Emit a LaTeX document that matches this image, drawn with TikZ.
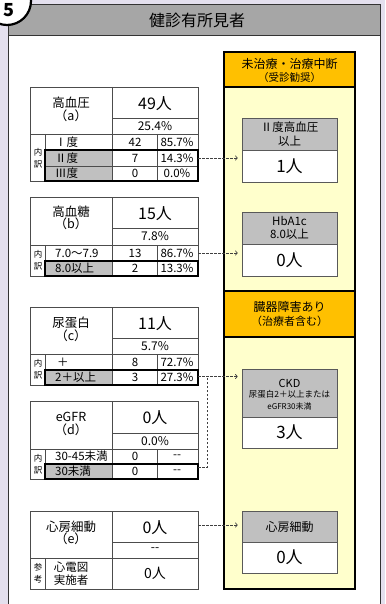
\documentclass[tikz,border=0pt]{standalone}
\usepackage{fontspec}
\setmainfont{Noto Sans CJK JP}
\usepackage{tikz}
\usetikzlibrary{arrows.meta, calc}

\definecolor{lavbg}{RGB}{228,224,238}
\definecolor{barGray}{RGB}{166,166,166}
\definecolor{cellGray}{RGB}{192,192,192}
\definecolor{headOrange}{RGB}{255,192,0}
\definecolor{paleYellow}{RGB}{255,255,204}

\tikzset{
  cellline/.style={draw=black!70, line width=0.6pt},
  hilite/.style={draw=black, line width=1.3pt},
  colbox/.style={draw=black, line width=1.5pt},
  lbl/.style={inner sep=0pt, align=center, font=\fontsize{12.5}{12.5}\selectfont},
  bignum/.style={inner sep=0pt, font=\fontsize{16}{16}\selectfont},
  pct/.style={inner sep=0pt, font=\fontsize{12}{12}\selectfont},
  rowtxt/.style={inner sep=0pt, font=\fontsize{11.5}{11.5}\selectfont},
  tinytxt/.style={inner sep=0pt, align=center, font=\fontsize{8.5}{12}\selectfont},
  headtxt/.style={inner sep=0pt, font=\fontsize{12}{12}\selectfont},
  subhead/.style={inner sep=0pt, font=\fontsize{10.5}{10.5}\selectfont},
  graybox/.style={draw=black!65, line width=0.8pt, fill=cellGray, minimum width=95pt,
    inner sep=0pt, align=center, font=\fontsize{11.5}{13.5}\selectfont},
  whitebox/.style={draw=black!65, line width=0.8pt, fill=white, minimum width=95pt,
    inner sep=0pt, font=\fontsize{17}{17}\selectfont},
  darr/.style={draw=black!75, line width=0.7pt, dash pattern=on 2.5pt off 1.5pt,
    -{To[length=2.5pt,width=5pt]}, shorten >=4pt},
  dline/.style={draw=black!75, line width=0.7pt, dash pattern=on 2.5pt off 1.5pt},
}

\begin{document}
\begin{tikzpicture}[x=1pt,y=-1pt]
    % Background and panel
    \fill[lavbg] (0,0) rectangle (385,604);
    \useasboundingbox (0,0) rectangle (385,604);
    \fill[white] (8,36) rectangle (380,610);
    \fill[barGray] (8,5) rectangle (380,36);
    \draw[line width=1pt, black!80] (8,610) -- (8,5) -- (380,5) -- (380,610);
    \draw[line width=1pt, black!80] (8,36) -- (380,36);
    \node[inner sep=0pt, font=\fontsize{16}{16}\selectfont] (title) at (197,20.5) {健診有所見者};

    % Section number
    \draw[line width=2.2pt, fill=white] (7,1) circle (24pt);
    \node[inner sep=0pt, font=\bfseries\fontsize{18}{18}\selectfont] (secno) at (8.5,10) {5};

    % Right column
    \filldraw[colbox, fill=paleYellow] (224,52) rectangle (355,589);
    \filldraw[colbox, fill=headOrange] (224,52) rectangle (355,87);
    \filldraw[colbox, fill=headOrange] (224,291) rectangle (355,337);
    \node[headtxt] (hd1) at (289.5,64) {未治療・治療中断};
    \node[subhead] (hd1b) at (289.5,78) {（受診勧奨）};
    \node[headtxt] (hd2) at (289.5,307) {臓器障害あり};
    \node[headtxt, font=\fontsize{11}{11}\selectfont] (hd2b) at (289.5,321) {（治療者含む）};

    % Boxes in the right column
    \node[graybox, minimum height=32pt] (g1) at (289.5,134) {Ⅱ度高血圧\\以上};
    \node[whitebox, minimum height=32pt] (w1) at (289.5,166) {1人};
    \node[graybox, minimum height=32pt] (g2) at (289.5,228) {HbA1c\\8.0以上};
    \node[whitebox, minimum height=32pt] (w2) at (289.5,260) {0人};
    \node[graybox, minimum height=48pt] (g3) at (289.5,393) {};
    \node[inner sep=0pt, font=\fontsize{11}{11}\selectfont] (ckd) at (289.5,383) {CKD};
    \node[tinytxt] (ckdb) at (289.5,400.5) {尿蛋白2＋以上または\\{\fontsize{8}{8}\selectfont eGFR30未満}};
    \node[whitebox, minimum height=31pt] (w3) at (289.5,432.5) {3人};
    \node[graybox, minimum height=31pt, font=\fontsize{12}{12}\selectfont] (g4) at (289.5,526.5) {心房細動};
    \node[whitebox, minimum height=31pt] (w4) at (289.5,557.5) {0人};

    % (a) blood pressure
    \fill[cellGray] (45,150) rectangle (112,181);
    \draw[cellline] (30,87) rectangle (198,181);
    \draw[cellline] (112,87) -- (112,181) (112,118) -- (198,118) (30,134) -- (198,134)
        (45,134) -- (45,181) (157,134) -- (157,181) (45,150) -- (198,150) (45,166) -- (198,166);
    \draw[hilite] (45,150) rectangle (198,181);
    \node[lbl] (la) at (71,109.5) {高血圧\\（a）};
    \node[bignum] (na) at (155,104) {49人};
    \node[pct] (pa) at (155,126) {25.4\%};
    \node[tinytxt] (ua) at (38,158) {内\\訳};
    \node[rowtxt, anchor=west] (a1) at (55,142) {Ⅰ度};
    \node[rowtxt, anchor=west] (a2) at (55,158) {Ⅱ度};
    \node[rowtxt, anchor=west] (a3) at (55,173.5) {Ⅲ度};
    \node[rowtxt] (a1n) at (135,142) {42};
    \node[rowtxt] (a2n) at (135,158) {7};
    \node[rowtxt] (a3n) at (135,173.5) {0};
    \node[rowtxt] (a1p) at (177,142) {85.7\%};
    \node[rowtxt] (a2p) at (177,158) {14.3\%};
    \node[rowtxt] (a3p) at (177,173.5) {0.0\%};

    % (b) blood sugar
    \fill[cellGray] (45,261) rectangle (112,276);
    \draw[cellline] (30,197) rectangle (198,276);
    \draw[cellline] (112,197) -- (112,276) (112,228) -- (198,228) (30,245) -- (198,245)
        (45,245) -- (45,276) (157,245) -- (157,276) (45,261) -- (198,261);
    \draw[hilite] (45,261) rectangle (198,276);
    \node[lbl] (lb) at (71,218) {高血糖\\（b）};
    \node[bignum] (nb) at (155,214) {15人};
    \node[pct] (pb) at (155,236.5) {7.8\%};
    \node[tinytxt] (ub) at (38,260.5) {内\\訳};
    \node[rowtxt, anchor=west] (b1) at (55,253) {7.0〜7.9};
    \node[rowtxt, anchor=west] (b2) at (55,268.5) {8.0以上};
    \node[rowtxt] (b1n) at (135,253) {13};
    \node[rowtxt] (b2n) at (135,268.5) {2};
    \node[rowtxt] (b1p) at (177,253) {86.7\%};
    \node[rowtxt] (b2p) at (177,268.5) {13.3\%};

    % (c) urine protein
    \fill[cellGray] (45,370) rectangle (112,385);
    \draw[cellline] (30,307) rectangle (198,385);
    \draw[cellline] (112,307) -- (112,385) (112,338) -- (198,338) (30,354) -- (198,354)
        (45,354) -- (45,385) (157,354) -- (157,385) (45,370) -- (198,370);
    \draw[hilite] (45,370) rectangle (198,385);
    \node[lbl] (lc) at (71,329.5) {尿蛋白\\（c）};
    \node[bignum] (nc) at (155,323.5) {11人};
    \node[pct] (pc) at (155,346) {5.7\%};
    \node[tinytxt] (uc) at (38,369.5) {内\\訳};
    \node[rowtxt, anchor=west] (c1) at (57,362) {＋};
    \node[rowtxt, anchor=west] (c2) at (55,377.5) {2＋以上};
    \node[rowtxt] (c1n) at (135,362) {8};
    \node[rowtxt] (c2n) at (135,377.5) {3};
    \node[rowtxt] (c1p) at (177,362) {72.7\%};
    \node[rowtxt] (c2p) at (177,377.5) {27.3\%};

    % (d) eGFR
    \fill[cellGray] (45,464) rectangle (112,479);
    \draw[cellline] (30,401) rectangle (198,479);
    \draw[cellline] (112,401) -- (112,479) (112,433) -- (198,433) (30,449) -- (198,449)
        (45,449) -- (45,479) (157,449) -- (157,479) (45,464) -- (198,464);
    \draw[hilite] (45,464) rectangle (198,479);
    \node[lbl] (ld) at (71,424) {eGFR\\（d）};
    \node[bignum] (nd) at (155,418) {0人};
    \node[pct] (pd) at (155,441) {0.0\%};
    \node[tinytxt] (ud) at (38,464) {内\\訳};
    \node[rowtxt, anchor=west] (d1) at (55,456.5) {30-45未満};
    \node[rowtxt, anchor=west] (d2) at (55,471.5) {30未満};
    \node[rowtxt] (d1n) at (135,456.5) {0};
    \node[rowtxt] (d2n) at (135,471.5) {0};
    \node[rowtxt] (d1p) at (177,456.5) {-{}-};
    \node[rowtxt] (d2p) at (177,471.5) {-{}-};

    % (e) atrial fibrillation
    \draw[cellline] (30,511) rectangle (198,589);
    \draw[cellline] (112,511) -- (112,589) (112,542) -- (198,542) (30,558) -- (198,558)
        (45,558) -- (45,589);
    \node[lbl] (le) at (71,533) {心房細動\\（e）};
    \node[bignum] (ne) at (155,527.5) {0人};
    \node[pct] (pe) at (155,550) {-{}-};
    \node[tinytxt] (ue) at (38,573.5) {参\\考};
    \node[rowtxt, align=center, font=\fontsize{11.5}{12.5}\selectfont] (e1) at (71,573.5) {心電図\\実施者};
    \node[inner sep=0pt, font=\fontsize{14}{14}\selectfont] (e1n) at (155,573.5) {0人};

    % Dashed connectors
    \coordinate (sa) at (198,158);
    \coordinate (sb) at (198,253);
    \coordinate (sc) at (198,376.5);
    \coordinate (sd) at (198,467);
    \coordinate (se) at (198,525);
    \coordinate (jn) at (207,378);
    \draw[darr] (sa) -- (sa -| w1.west);
    \draw[darr] (sb) -- (sb -| w2.west);
    \draw[darr] (sc) -- (sc -| g3.west);
    \draw[dline] (sd) -| (jn);
    \draw[darr] (se) -- (se -| g4.west);
\end{tikzpicture}
\end{document}
